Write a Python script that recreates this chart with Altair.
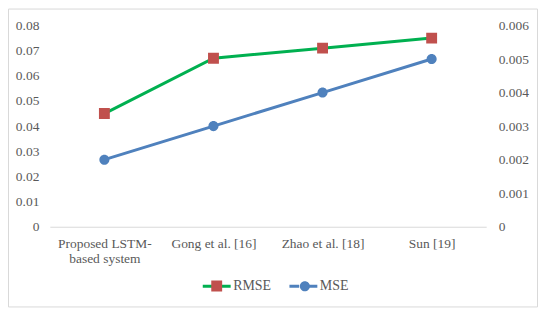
import altair as alt
import pandas as pd

categories = ["Proposed LSTM-based system", "Gong et al. [16]", "Zhao et al. [18]", "Sun [19]"]
rmse = [0.045, 0.067, 0.071, 0.075]
mse = [0.002, 0.003, 0.004, 0.005]
series_names = ["RMSE", "MSE"]
marker_names = ["RMSE_pt", "MSE_pt"]
left_ticks = [0, 0.01, 0.02, 0.03, 0.04, 0.05, 0.06, 0.07, 0.08]
right_ticks = [0, 0.001, 0.002, 0.003, 0.004, 0.005, 0.006]

df = pd.concat([
    pd.DataFrame({"method": categories, "value": rmse, "series": "RMSE", "marker": "RMSE_pt"}),
    pd.DataFrame({"method": categories, "value": mse, "series": "MSE", "marker": "MSE_pt"}),
], ignore_index=True)

FONT = "Liberation Serif, Times New Roman, DejaVu Serif, serif"
TXT = "#595959"
GRID = "#D9D9D9"
# marker shapes; the leading zero-area segment gives them the same extent as the legend line symbol
SQUARE = "M-1,0H1M-0.39,-0.39H0.39V0.39H-0.39Z"
CIRCLE = "M-1,0H1M-0.36,0A0.36,0.36,0,1,1,0.36,0A0.36,0.36,0,1,1,-0.36,0Z"

x_enc = alt.X(
    "method:N", sort=categories,
    scale=alt.Scale(type="point", padding=0.5),
    axis=alt.Axis(title=None, labelAngle=0, ticks=False, domainColor=GRID, domainWidth=1,
                  labelPadding=10, labelLineHeight=15, labelFontSize=13.5,
                  labelExpr="datum.label == 'Proposed LSTM-based system' ? ['Proposed LSTM-', 'based system'] : datum.label"),
)

legend_common = dict(orient="none", legendX=152, legendY=246, direction="horizontal", title=None,
                     symbolSize=784, symbolStrokeWidth=3, labelOffset=1, padding=0,
                     labelFont=FONT, labelFontSize=14, labelColor=TXT)

stroke_enc = alt.Stroke(
    "series:N",
    scale=alt.Scale(domain=series_names, range=["#00B050", "#4F81BD"]),
    legend=alt.Legend(symbolType="M-1,0H-0.3M0.3,0H1", columnPadding=11, **legend_common),
)
marker_legend = alt.Legend(symbolStrokeColor="transparent", labelExpr="''", columnPadding=47.5,
                           **legend_common)
fill_enc = alt.Fill("marker:N", scale=alt.Scale(domain=marker_names, range=["#C0504D", "#4F81BD"]),
                    legend=marker_legend)
shape_enc = alt.Shape("marker:N", scale=alt.Scale(domain=marker_names, range=[SQUARE, CIRCLE]),
                      legend=marker_legend)

base = alt.Chart(df)

y_left = alt.Y("value:Q", scale=alt.Scale(domain=[0, 0.08], nice=False, zero=True),
               axis=alt.Axis(orient="left", values=left_ticks, format=".2~f", title=None,
                             domain=False, ticks=False, grid=False, labelPadding=11, labelFontSize=13.5))
y_right = alt.Y("value:Q", scale=alt.Scale(domain=[0, 0.006], nice=False, zero=True),
                axis=alt.Axis(orient="right", values=right_ticks, format=".3~f", title=None,
                              domain=False, ticks=False, grid=False, labelPadding=12, labelFontSize=13.5))

rmse_grp = alt.layer(
    base.transform_filter("datum.series == 'RMSE'").mark_line(strokeWidth=3).encode(x=x_enc, y=y_left, stroke=stroke_enc),
    base.transform_filter("datum.series == 'RMSE'").mark_point(filled=True, size=784, opacity=1, strokeWidth=0).encode(
        x=x_enc, y=y_left, fill=fill_enc, shape=shape_enc),
)
mse_grp = alt.layer(
    base.transform_filter("datum.series == 'MSE'").mark_line(strokeWidth=3).encode(x=x_enc, y=y_right, stroke=stroke_enc),
    base.transform_filter("datum.series == 'MSE'").mark_point(filled=True, size=784, opacity=1, strokeWidth=0).encode(
        x=x_enc, y=y_right, fill=fill_enc, shape=shape_enc),
)

frame = alt.Chart(pd.DataFrame({"frame": [0]})).mark_rect(filled=False, stroke=GRID, strokeWidth=1).encode(
    x=alt.value(-41.5), x2=alt.value(489.5), y=alt.value(-16.5), y2=alt.value(282.5))

chart = alt.layer(frame, rmse_grp, mse_grp).resolve_scale(y="independent").properties(
    width=438, height=202,
    autosize=alt.AutoSizeParams(type="none"),
    padding={"left": 42, "top": 17, "right": 52, "bottom": 81},
).configure_view(stroke=None).configure_axis(
    labelFont=FONT, labelColor=TXT
)

chart.save("out.html", embed_options={"renderer": "svg", "actions": False})
